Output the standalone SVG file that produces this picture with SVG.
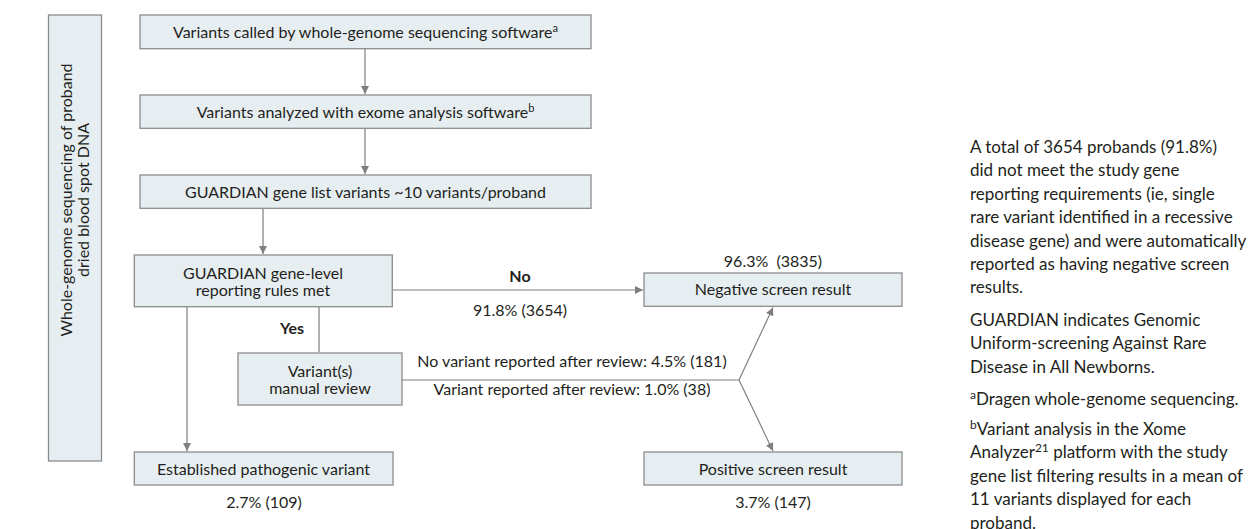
<svg xmlns="http://www.w3.org/2000/svg" width="1256" height="529" viewBox="0 0 1256 529">
<style>
.box{fill:#e7eef2;stroke:#8c8c8c;stroke-width:1.3}
.t{font-family:Lato,"Liberation Sans",sans-serif;font-size:16px;fill:#231f20}
.c{text-anchor:middle}
.b{font-weight:bold}
.n{font-family:Lato,"Liberation Sans",sans-serif;font-size:17px;fill:#231f20}
.ln{fill:none;stroke:#7f7f7f;stroke-width:1.2}
</style>
<defs>
<marker id="ah" viewBox="0 0 10 10" refX="10" refY="5" markerWidth="8" markerHeight="8" markerUnits="userSpaceOnUse" orient="auto">
<path d="M0,0 L10,5 L0,10 z" fill="#7f7f7f"/>
</marker>
</defs>
<rect width="1256" height="529" fill="#ffffff"/>

<g id="side">
<rect class="box" x="48.5" y="15" width="53" height="446"/>
<text class="t c" transform="translate(72,200) rotate(-90)">Whole-genome sequencing of proband</text>
<text class="t c" transform="translate(89,200) rotate(-90)">dried blood spot DNA</text>
</g>

<g id="connectors">
<path class="ln" d="M365,48.7 V94" marker-end="url(#ah)"/>
<path class="ln" d="M365,128.3 V174" marker-end="url(#ah)"/>
<path class="ln" d="M263,208.3 V254" marker-end="url(#ah)"/>
<path class="ln" d="M187,306.7 V451" marker-end="url(#ah)"/>
<path class="ln" d="M319,306.7 V352"/>
<path class="ln" d="M392.3,290 H643" marker-end="url(#ah)"/>
<path class="ln" d="M402,380 H739"/>
<path class="ln" d="M739,380 L773,307.5" marker-end="url(#ah)"/>
<path class="ln" d="M739,380 L773,451" marker-end="url(#ah)"/>
<text class="t c b" x="520" y="282">No</text>
<text class="t c" x="520" y="316">91.8% (3654)</text>
<text class="t c b" x="292" y="334">Yes</text>
<text class="t c" x="572" y="367">No variant reported after review: 4.5% (181)</text>
<text class="t c" x="572" y="395">Variant reported after review: 1.0% (38)</text>
</g>

<g id="n1">
<rect class="box" x="140" y="15" width="451" height="33.7"/>
<text class="t c" x="365.5" y="38">Variants called by whole-genome sequencing software<tspan font-size="11" dy="-6">a</tspan></text>
</g>
<g id="n2">
<rect class="box" x="140" y="95" width="451" height="33.3"/>
<text class="t c" x="365.5" y="118">Variants analyzed with exome analysis software<tspan font-size="11" dy="-6">b</tspan></text>
</g>
<g id="n3">
<rect class="box" x="140" y="175" width="451" height="33.3"/>
<text class="t c" x="365.5" y="198">GUARDIAN gene list variants ~10 variants/proband</text>
</g>
<g id="n4">
<rect class="box" x="134.3" y="255" width="258" height="51.7"/>
<text class="t c" x="263" y="278.5">GUARDIAN gene-level</text>
<text class="t c" x="263" y="295.5">reporting rules met</text>
</g>
<g id="n5">
<rect class="box" x="238" y="353" width="164" height="52"/>
<text class="t c" x="320" y="376.5">Variant(s)</text>
<text class="t c" x="320" y="393.5">manual review</text>
</g>
<g id="n6">
<rect class="box" x="134.3" y="452" width="258.7" height="33"/>
<text class="t c" x="263.5" y="474.5">Established pathogenic variant</text>
<text class="t c" x="264" y="507.5">2.7% (109)</text>
</g>
<g id="n7">
<rect class="box" x="644" y="273" width="258" height="33.3"/>
<text class="t c" x="773" y="295">Negative screen result</text>
<text class="t c" x="773" y="267">96.3%&#160; (3835)</text>
</g>
<g id="n8">
<rect class="box" x="644" y="452" width="258" height="33"/>
<text class="t c" x="773" y="474.5">Positive screen result</text>
<text class="t c" x="773" y="507.5">3.7% (147)</text>
</g>

<g id="notes">
<text class="n" x="970" y="153">A total of 3654 probands (91.8%)</text>
<text class="n" x="970" y="176.4">did not meet the study gene</text>
<text class="n" x="970" y="199.8">reporting requirements (ie, single</text>
<text class="n" x="970" y="223.2">rare variant identified in a recessive</text>
<text class="n" x="970" y="246.6">disease gene) and were automatically</text>
<text class="n" x="970" y="270">reported as having negative screen</text>
<text class="n" x="970" y="293.4">results.</text>
<text class="n" x="970" y="326">GUARDIAN indicates Genomic</text>
<text class="n" x="970" y="349.4">Uniform-screening Against Rare</text>
<text class="n" x="970" y="372.8">Disease in All Newborns.</text>
<text class="n" x="970" y="404.5"><tspan font-size="12" dy="-6">a</tspan><tspan dy="6">Dragen whole-genome sequencing.</tspan></text>
<text class="n" x="970" y="435"><tspan font-size="12" dy="-6">b</tspan><tspan dy="6">Variant analysis in the Xome</tspan></text>
<text class="n" x="970" y="458.4">Analyzer<tspan font-size="12" dy="-6">21</tspan><tspan dy="6"> platform with the study</tspan></text>
<text class="n" x="970" y="481.8">gene list filtering results in a mean of</text>
<text class="n" x="970" y="505.2">11 variants displayed for each</text>
<text class="n" x="970" y="528.6">proband.</text>
</g>
</svg>
